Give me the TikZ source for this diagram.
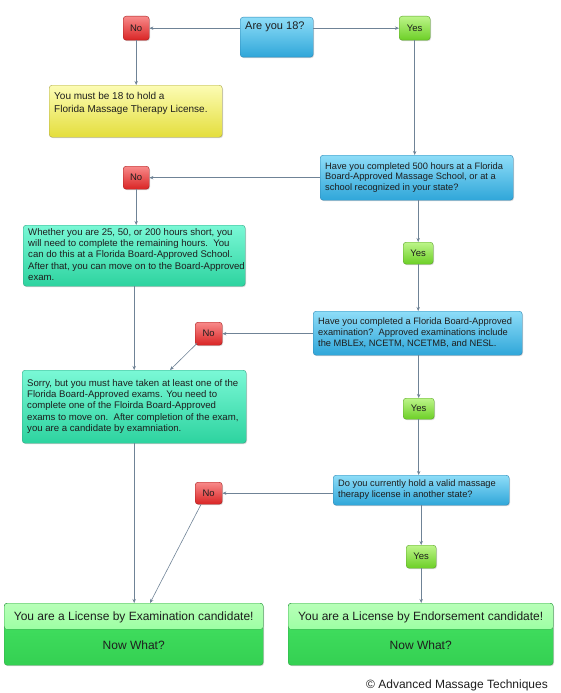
\documentclass[tikz,border=0pt]{standalone}
\usepackage{fontspec}
\setmainfont{Liberation Sans}
\usetikzlibrary{arrows.meta,shadows,calc}
\definecolor{qtop}{HTML}{8EDDF8}
\definecolor{qbot}{HTML}{2FA6D9}
\definecolor{qline}{HTML}{2D86B5}
\definecolor{ntop}{HTML}{F88A8A}
\definecolor{nbot}{HTML}{D92424}
\definecolor{nline}{HTML}{A81C1C}
\definecolor{ytop}{HTML}{BDF58A}
\definecolor{ybot}{HTML}{6CCF26}
\definecolor{yline}{HTML}{5AA528}
\definecolor{wtop}{HTML}{FCFCB4}
\definecolor{wbot}{HTML}{E4DE3C}
\definecolor{wline}{HTML}{ABA645}
\definecolor{gtop}{HTML}{7AF8D6}
\definecolor{gbot}{HTML}{2DD39F}
\definecolor{gline}{HTML}{2FA583}
\definecolor{etop}{HTML}{B8FFB8}
\definecolor{emid}{HTML}{78FF88}
\definecolor{elow}{HTML}{46E464}
\definecolor{ebot}{HTML}{34D052}
\definecolor{eline}{HTML}{33A648}
\definecolor{conn}{HTML}{6F8396}
\definecolor{ink}{HTML}{1E1E1E}
\newcommand\ctext[3]{\parbox[c][#2][c]{#1}{\begin{tabular}{@{}l@{}}#3\end{tabular}}}
\newcommand\ttext[4]{\parbox[c][#2][t]{#1}{\vspace*{#3}\begin{tabular}{@{}l@{}}#4\end{tabular}}}
\begin{document}
\begin{tikzpicture}[x=1pt,y=-1pt,
  base/.style={rounded corners=3pt, anchor=north west, inner sep=0pt, text=ink,
    drop shadow={shadow xshift=0.8pt,shadow yshift=-1pt,opacity=0.3}},
  qbox/.style={base, draw=qline, top color=qtop, bottom color=qbot, inner xsep=5pt,
    font=\fontsize{9.3}{10.8}\selectfont},
  wbox/.style={base, draw=wline, top color=wtop, bottom color=wbot, inner xsep=5pt,
    font=\fontsize{10}{12.5}\selectfont},
  gbox/.style={base, draw=gline, top color=gtop, bottom color=gbot, inner xsep=5pt,
    font=\fontsize{9.6}{11.1}\selectfont},
  nobox/.style={base, draw=nline, top color=ntop, bottom color=nbot,
    font=\fontsize{9.5}{11}\selectfont},
  yesbox/.style={base, draw=yline, top color=ytop, bottom color=ybot,
    font=\fontsize{9.5}{11}\selectfont},
  endbox/.style={base, draw=eline, top color=elow, bottom color=ebot,
    font=\fontsize{12}{29}\selectfont,
    path picture={\fill[top color=etop, bottom color=emid]
      (path picture bounding box.north west) rectangle
      ($(path picture bounding box.north east)!0.42!(path picture bounding box.south east)$);}},
  conn/.style={draw=conn, line width=0.6pt, -{Stealth[length=4pt,width=3.4pt]}}
]
\useasboundingbox (0,0) rectangle (560,693);

% questions
\node[qbox, font=\fontsize{11}{13}\selectfont] (Q1) at (240,17)
  {\ttext{63pt}{40pt}{3pt}{Are you 18?}};
\node[qbox] (Q2) at (320,155)
  {\ctext{183pt}{45pt}{Have you completed 500 hours at a Florida\\Board-Approved Massage School, or at a\\school recognized in your state?}};
\node[qbox] (Q3) at (313,311)
  {\ctext{199pt}{44pt}{Have you completed a Florida Board-Approved\\examination?\ \ Approved examinations include\\the MBLEx, NCETM, NCETMB, and NESL.}};
\node[qbox] (Q4) at (333,475)
  {\ctext{166pt}{30pt}{Do you currently hold a valid massage\\therapy license in another state?}};

% info boxes
\node[wbox] (Yel) at (49,85)
  {\ttext{163pt}{52pt}{6pt}{You must be 18 to hold a\\Florida Massage Therapy License.}};
\node[gbox] (G1) at (23,225)
  {\ctext{212pt}{61pt}{Whether you are 25, 50, or 200 hours short, you\\will need to complete the remaining hours.\ \ You\\can do this at a Florida Board-Approved School.\\After that, you can move on to the Board-Approved\\exam.}};
\node[gbox] (G2) at (22,370)
  {\ctext{214pt}{73pt}{Sorry, but you must have taken at least one of the\\Florida Board-Approved exams. You need to\\complete one of the Floirda Board-Approved\\exams to move on.\ \ After completion of the exam,\\you are a candidate by examniation.}};

% yes / no
\node[nobox, minimum width=26pt, minimum height=24pt] (N1) at (123,16) {No};
\node[yesbox, minimum width=31pt, minimum height=24pt] (Y1) at (399,16) {Yes};
\node[nobox, minimum width=26pt, minimum height=23pt] (N2) at (123,166) {No};
\node[yesbox, minimum width=30pt, minimum height=22pt] (Y2) at (403,242) {Yes};
\node[nobox, minimum width=27pt, minimum height=23pt] (N3) at (195,322) {No};
\node[yesbox, minimum width=31pt, minimum height=21pt] (Y3) at (403,398) {Yes};
\node[nobox, minimum width=27pt, minimum height=22pt] (N4) at (195,482) {No};
\node[yesbox, minimum width=30pt, minimum height=23pt] (Y4) at (406,545) {Yes};

% end boxes
\node[endbox] (E1) at (4,603)
  {\parbox[c][62pt][t]{259pt}{\centering\vspace*{9pt}You are a License by Examination candidate!\\Now What?}};
\node[endbox] (E2) at (288,603)
  {\parbox[c][62pt][t]{265pt}{\centering\vspace*{9pt}You are a License by Endorsement candidate!\\Now What?}};

\node[anchor=base east, font=\fontsize{12}{14}\selectfont, text=ink, inner sep=0pt] (copy) at (548,688)
  {© Advanced Massage Techniques};

% connectors
\draw[conn] (Q1.west |- N1.east) -- (N1.east);
\draw[conn] (Q1.east |- Y1.west) -- (Y1.west);
\draw[conn] (N1.south) -- (N1.south |- Yel.north);
\draw[conn] (Y1.south) -- (Y1.south |- Q2.north);
\draw[conn] (Q2.west |- N2.east) -- (N2.east);
\draw[conn] (Y2.north |- Q2.south) -- (Y2.north);
\draw[conn] (N2.south) -- (N2.south |- G1.north);
\draw[conn] (Y2.south) -- (Y2.south |- Q3.north);
\draw[conn] (Q3.west |- N3.east) -- (N3.east);
\draw[conn] (Y3.north |- Q3.south) -- (Y3.north);
\draw[conn] (G1.south) -- (G1.south |- G2.north);
\draw[conn] ([shift={(2,-2)}]N3.south west) -- ($(G2.north west)+(148,0)$);
\draw[conn] (Y3.south) -- (Y3.south |- Q4.north);
\draw[conn] (Q4.west |- N4.east) -- (N4.east);
\draw[conn] (Y4.north |- Q4.south) -- (Y4.north);
\draw[conn] (G2.south) -- (G2.south |- E1.north);
\draw[conn] ([shift={(6,0)}]N4.south west) -- ($(E1.north west)+(146,0)$);
\draw[conn] (Y4.south) -- (Y4.south |- E2.north);
\end{tikzpicture}
\end{document}
